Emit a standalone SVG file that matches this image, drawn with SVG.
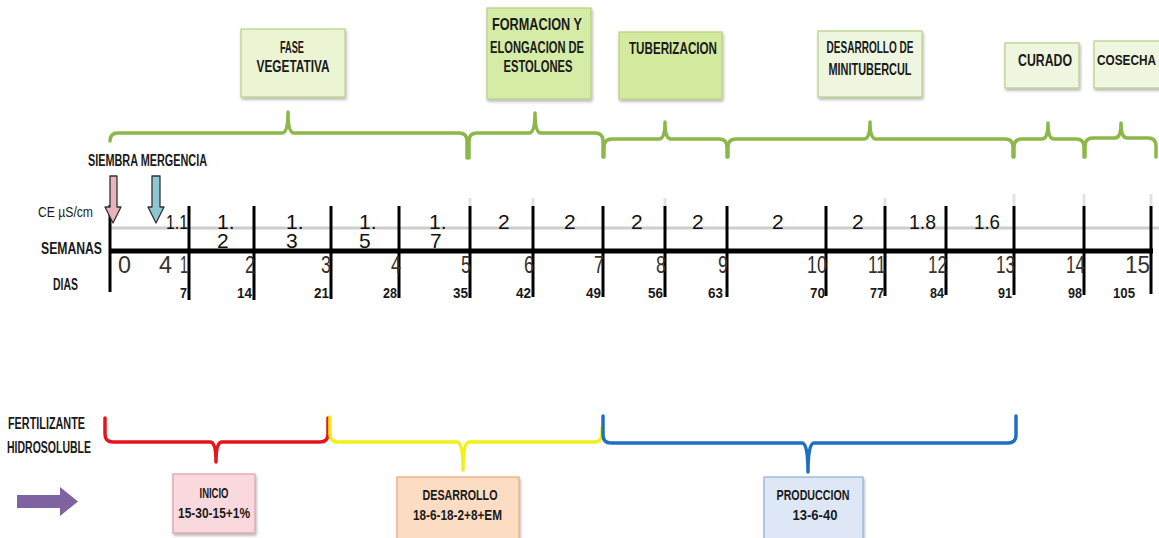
<svg xmlns="http://www.w3.org/2000/svg" width="1159" height="538" viewBox="0 0 1159 538">
<style>
  text { font-family: "Liberation Sans", Arial, sans-serif; }
  .b { font-weight: bold; font-size: 16.5px; fill: #1a1a1a; text-anchor: middle; }
  .bs { font-weight: bold; font-size: 16px; fill: #1a1a1a; }
  .ce { font-size: 21px; fill: #111; }
  .wk { font-size: 24px; fill: #333; text-anchor: end; }
  .day { font-weight: bold; font-size: 15.5px; fill: #1a1a1a; text-anchor: end; }
  .gbox { stroke: #b5d086; stroke-width: 1.2; }
  .brace { fill: none; stroke-width: 3.5; stroke-linejoin: round; stroke-linecap: round; }
  .tick { stroke: #000; stroke-width: 3; }
  .faint { stroke: #e2e2e2; stroke-width: 3; }
</style>
<defs>
  <filter id="sh" x="-10%" y="-10%" width="130%" height="130%">
    <feDropShadow dx="1" dy="2" stdDeviation="1.5" flood-color="#000" flood-opacity="0.3"/>
  </filter>
</defs>
<rect width="1159" height="538" fill="#fff"/>

<!-- top phase nodes -->
<g id="fase-vegetativa">
  <rect class="gbox" x="241" y="29" width="104" height="68" fill="#ebf5d3" filter="url(#sh)"/>
  <text class="b" x="292" y="53" textLength="24" lengthAdjust="spacingAndGlyphs">FASE</text>
  <text class="b" x="293" y="72" textLength="73" lengthAdjust="spacingAndGlyphs">VEGETATIVA</text>
</g>
<g id="formacion">
  <rect class="gbox" x="487" y="8" width="104" height="91" fill="#d5eca6" filter="url(#sh)"/>
  <text class="b" x="537" y="30" textLength="90" lengthAdjust="spacingAndGlyphs">FORMACION Y</text>
  <text class="b" x="537" y="53" textLength="94" lengthAdjust="spacingAndGlyphs">ELONGACION DE</text>
  <text class="b" x="538" y="72" textLength="69" lengthAdjust="spacingAndGlyphs">ESTOLONES</text>
</g>
<g id="tuberizacion">
  <rect class="gbox" x="619" y="32" width="103" height="67" fill="#d4eb9f" filter="url(#sh)"/>
  <text class="b" x="673" y="54" textLength="88" lengthAdjust="spacingAndGlyphs">TUBERIZACION</text>
</g>
<g id="desarrollo-minitubercul">
  <rect class="gbox" x="818" y="31" width="104" height="66" fill="#eef6df" filter="url(#sh)"/>
  <text class="b" x="870" y="53" textLength="87" lengthAdjust="spacingAndGlyphs">DESARROLLO DE</text>
  <text class="b" x="870" y="75" textLength="83" lengthAdjust="spacingAndGlyphs">MINITUBERCUL</text>
</g>
<g id="curado">
  <rect class="gbox" x="1005" y="43" width="74" height="45" fill="#eef6df" filter="url(#sh)"/>
  <text class="b" x="1045" y="66" textLength="54" lengthAdjust="spacingAndGlyphs">CURADO</text>
</g>
<g id="cosecha">
  <rect class="gbox" x="1094" y="41" width="80" height="47" fill="#eef6df" filter="url(#sh)"/>
  <text class="b" x="1097" y="65" style="text-anchor:start;font-size:15px" textLength="59" lengthAdjust="spacingAndGlyphs">COSECHA</text>
</g>

<!-- fertilizer nodes -->
<g id="inicio">
  <rect x="173" y="474" width="82" height="59" fill="#f9d9dd" stroke="#d9a0a8" stroke-width="1.2" filter="url(#sh)"/>
  <text class="b" style="font-size:15.5px" x="214" y="498" textLength="29" lengthAdjust="spacingAndGlyphs">INICIO</text>
  <text class="b" style="font-size:15.5px" x="214" y="518" textLength="72" lengthAdjust="spacingAndGlyphs">15-30-15+1%</text>
</g>
<g id="desarrollo">
  <rect x="397" y="477" width="122" height="64" fill="#fcdcc2" stroke="#e5aa7c" stroke-width="1.2" filter="url(#sh)"/>
  <text class="b" style="font-size:15.5px" x="460" y="500" textLength="75" lengthAdjust="spacingAndGlyphs">DESARROLLO</text>
  <text class="b" style="font-size:15.5px;text-anchor:start" x="413" y="520" textLength="89" lengthAdjust="spacingAndGlyphs">18-6-18-2+8+EM</text>
</g>
<g id="produccion">
  <rect x="764" y="477" width="99" height="64" fill="#dde7f6" stroke="#93b0d6" stroke-width="1.2" filter="url(#sh)"/>
  <text class="b" style="font-size:15.5px" x="813" y="500" textLength="73" lengthAdjust="spacingAndGlyphs">PRODUCCION</text>
  <text class="b" style="font-size:15.5px" x="815" y="520" textLength="45" lengthAdjust="spacingAndGlyphs">13-6-40</text>
</g>

<!-- left labels -->
<g id="labels">
  <text class="bs" x="88" y="166" textLength="119" lengthAdjust="spacingAndGlyphs">SIEMBRA MERGENCIA</text>
  <text class="bs" x="38" y="217" style="font-weight:normal;font-size:15px" textLength="55" lengthAdjust="spacingAndGlyphs">CE µS/cm</text>
  <text class="bs" x="41" y="254" textLength="61" lengthAdjust="spacingAndGlyphs">SEMANAS</text>
  <text class="bs" x="53" y="290" textLength="25" lengthAdjust="spacingAndGlyphs">DIAS</text>
  <text class="bs" x="8" y="429" textLength="77" lengthAdjust="spacingAndGlyphs">FERTILIZANTE</text>
  <text class="bs" x="7" y="453" textLength="84" lengthAdjust="spacingAndGlyphs">HIDROSOLUBLE</text>
</g>

<!-- timeline -->
<g id="timeline">
  <line x1="110" y1="228" x2="1159" y2="228" stroke="#cdcdcd" stroke-width="3"/>
  <line class="faint" x1="470" y1="198" x2="470" y2="206"/>
  <line class="faint" x1="533" y1="198" x2="533" y2="206"/>
  <line class="faint" x1="665" y1="198" x2="665" y2="206"/>
  <line class="faint" x1="885" y1="198" x2="885" y2="206"/>
  <line class="faint" x1="1014" y1="194" x2="1014" y2="206"/>
  <line class="faint" x1="1084" y1="194" x2="1084" y2="206"/>
  <line class="faint" x1="1151" y1="194" x2="1151" y2="206"/>
  <line x1="110" y1="251" x2="1153" y2="251" stroke="#000" stroke-width="5"/>
  <line class="tick" x1="110" y1="205" x2="110" y2="292"/>
  <line class="tick" x1="189" y1="206" x2="189" y2="300"/>
  <line class="tick" x1="254" y1="206" x2="254" y2="300"/>
  <line class="tick" x1="331" y1="206" x2="331" y2="299"/>
  <line class="tick" x1="399" y1="206" x2="399" y2="298"/>
  <line class="tick" x1="470" y1="206" x2="470" y2="298"/>
  <line class="tick" x1="533" y1="206" x2="533" y2="297"/>
  <line class="tick" x1="603" y1="206" x2="603" y2="297"/>
  <line class="tick" x1="665" y1="206" x2="665" y2="297"/>
  <line class="tick" x1="727" y1="206" x2="727" y2="297"/>
  <line class="tick" x1="826" y1="206" x2="826" y2="296"/>
  <line class="tick" x1="885" y1="206" x2="885" y2="296"/>
  <line class="tick" x1="946" y1="206" x2="946" y2="295"/>
  <line class="tick" x1="1014" y1="206" x2="1014" y2="295"/>
  <line class="tick" x1="1084" y1="206" x2="1084" y2="295"/>
  <line class="tick" x1="1151" y1="206" x2="1151" y2="294"/>

  <!-- CE values -->
  <text class="ce" x="166" y="229" textLength="22" lengthAdjust="spacingAndGlyphs">1.1</text>
  <text class="ce"><tspan x="217" y="229">1.</tspan><tspan x="217" y="248">2</tspan></text>
  <text class="ce"><tspan x="286" y="229">1.</tspan><tspan x="286" y="248">3</tspan></text>
  <text class="ce"><tspan x="359" y="229">1.</tspan><tspan x="359" y="248">5</tspan></text>
  <text class="ce"><tspan x="429" y="229">1.</tspan><tspan x="430" y="248">7</tspan></text>
  <text class="ce" x="498" y="229">2</text>
  <text class="ce" x="564" y="229">2</text>
  <text class="ce" x="631" y="229">2</text>
  <text class="ce" x="692" y="229">2</text>
  <text class="ce" x="772" y="229">2</text>
  <text class="ce" x="852" y="229">2</text>
  <text class="ce" x="909" y="229" textLength="27" lengthAdjust="spacingAndGlyphs">1.8</text>
  <text class="ce" x="974" y="229" textLength="26" lengthAdjust="spacingAndGlyphs">1.6</text>

  <!-- week numbers -->
  <text class="wk" x="131" y="273" textLength="13" lengthAdjust="spacingAndGlyphs">0</text>
  <text class="wk" x="172" y="273" textLength="13" lengthAdjust="spacingAndGlyphs">4</text>
  <text class="wk" x="188" y="273" textLength="8" lengthAdjust="spacingAndGlyphs">1</text>
  <text class="wk" x="255" y="273" textLength="10" lengthAdjust="spacingAndGlyphs">2</text>
  <text class="wk" x="331" y="273" textLength="10" lengthAdjust="spacingAndGlyphs">3</text>
  <text class="wk" x="401" y="273" textLength="10" lengthAdjust="spacingAndGlyphs">4</text>
  <text class="wk" x="471" y="273" textLength="10" lengthAdjust="spacingAndGlyphs">5</text>
  <text class="wk" x="534" y="273" textLength="10" lengthAdjust="spacingAndGlyphs">6</text>
  <text class="wk" x="604" y="273" textLength="10" lengthAdjust="spacingAndGlyphs">7</text>
  <text class="wk" x="666" y="273" textLength="10" lengthAdjust="spacingAndGlyphs">8</text>
  <text class="wk" x="728" y="273" textLength="10" lengthAdjust="spacingAndGlyphs">9</text>
  <text class="wk" x="827" y="273" textLength="20" lengthAdjust="spacingAndGlyphs">10</text>
  <text class="wk" x="886" y="273" textLength="18" lengthAdjust="spacingAndGlyphs">11</text>
  <text class="wk" x="947" y="273" textLength="19" lengthAdjust="spacingAndGlyphs">12</text>
  <text class="wk" x="1015" y="273" textLength="19" lengthAdjust="spacingAndGlyphs">13</text>
  <text class="wk" x="1085" y="273" textLength="19" lengthAdjust="spacingAndGlyphs">14</text>
  <text class="wk" x="1150" y="273" textLength="25" lengthAdjust="spacingAndGlyphs">15</text>

  <!-- days -->
  <text class="day" x="187" y="298" textLength="7" lengthAdjust="spacingAndGlyphs">7</text>
  <text class="day" x="252" y="298" textLength="15" lengthAdjust="spacingAndGlyphs">14</text>
  <text class="day" x="329" y="298" textLength="15" lengthAdjust="spacingAndGlyphs">21</text>
  <text class="day" x="397" y="298" textLength="14" lengthAdjust="spacingAndGlyphs">28</text>
  <text class="day" x="468" y="298" textLength="15" lengthAdjust="spacingAndGlyphs">35</text>
  <text class="day" x="531" y="298" textLength="15" lengthAdjust="spacingAndGlyphs">42</text>
  <text class="day" x="601" y="298" textLength="15" lengthAdjust="spacingAndGlyphs">49</text>
  <text class="day" x="663" y="298" textLength="15" lengthAdjust="spacingAndGlyphs">56</text>
  <text class="day" x="723" y="298" textLength="15" lengthAdjust="spacingAndGlyphs">63</text>
  <text class="day" x="825" y="298" textLength="15" lengthAdjust="spacingAndGlyphs">70</text>
  <text class="day" x="884" y="298" textLength="14" lengthAdjust="spacingAndGlyphs">77</text>
  <text class="day" x="944" y="298" textLength="14" lengthAdjust="spacingAndGlyphs">84</text>
  <text class="day" x="1012" y="298" textLength="14" lengthAdjust="spacingAndGlyphs">91</text>
  <text class="day" x="1082" y="298" textLength="14" lengthAdjust="spacingAndGlyphs">98</text>
  <text class="day" x="1135" y="298" textLength="22" lengthAdjust="spacingAndGlyphs">105</text>
</g>

<!-- connectors: braces and arrows -->
<g id="connectors">
  <g stroke="#8cb84a">
    <path class="brace" d="M110,141 Q110,133 118,133 L282,133 Q288,133 288,112 Q288,133 294,133 L459,133 Q467,133 467,141 L467,158"/>
    <path class="brace" d="M469,158 L469,141 Q469,133 477,133 L529,133 Q535,133 535,113 Q535,133 541,133 L595,133 Q603,133 603,141 L603,157"/>
    <path class="brace" d="M604,157 L604,147 Q604,139 612,139 L659,139 Q665,139 665,122 Q665,139 671,139 L719,139 Q727,139 727,147 L727,157"/>
    <path class="brace" d="M728,157 L728,147 Q728,139 736,139 L864,139 Q870,139 870,122 Q870,139 876,139 L1005,139 Q1013,139 1013,147 L1013,157"/>
    <path class="brace" d="M1014,157 L1014,147 Q1014,139 1022,139 L1042,139 Q1048,139 1048,123 Q1048,139 1054,139 L1076,139 Q1084,139 1084,147 L1084,157"/>
    <path class="brace" d="M1085,157 L1085,146 Q1085,138 1093,138 L1115,138 Q1121,138 1121,123 Q1121,138 1127,138 L1148,138 Q1156,138 1156,146 L1156,157"/>
  </g>
  <path class="brace" stroke="#e8141b" d="M105,418 L105,434 Q105,442 113,442 L210,442 Q216,442 216,462 Q216,442 222,442 L320,442 Q328,442 328,434 L328,418"/>
  <path class="brace" stroke="#f2f016" d="M330,417 L330,434 Q330,442 338,442 L457,442 Q463,442 463,470 Q463,442 469,442 L594,442 Q602,442 602,434 L602,428"/>
  <path class="brace" stroke="#1f6fc1" stroke-width="3" d="M603,416 L603,435 Q603,443 611,443 L802,443 Q808,443 808,472 Q808,443 814,443 L1008,443 Q1016,443 1016,435 L1016,416"/>

  <polygon points="110,176 117,176 117,207 121,207 113,223 105,207 110,207" fill="#e9b3b9" stroke="#333" stroke-width="1.3" stroke-linejoin="round"/>
  <polygon points="152,176 160,176 160,207 164,207 156,223 148,207 152,207" fill="#8ec6d3" stroke="#333" stroke-width="1.3" stroke-linejoin="round"/>
  <polygon points="17,495 60,495 60,487 78,501.5 60,516 60,508 17,508" fill="#7f63a1"/>
</g>
</svg>
